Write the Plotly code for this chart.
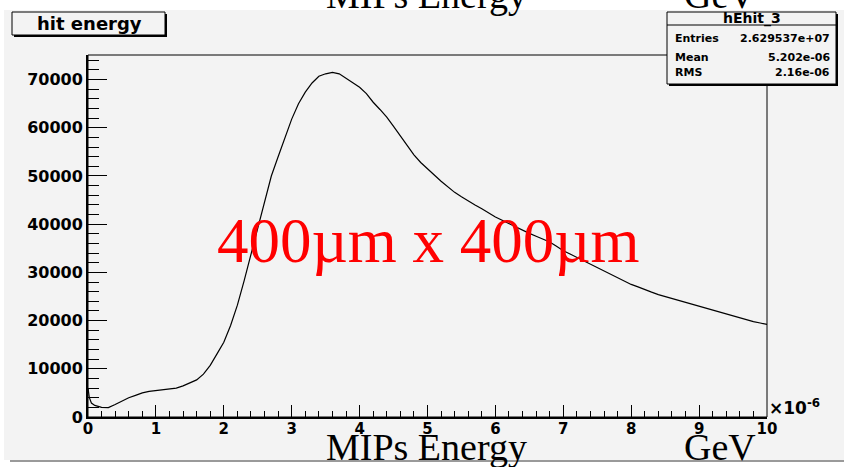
import plotly.graph_objects as go

# ---- data (x in units of 1e-6 GeV) ----
energy = [0.0, 0.02, 0.05, 0.1, 0.2, 0.3, 0.4, 0.5, 0.6, 0.7, 0.8, 0.9,
          1.0, 1.1, 1.2, 1.3, 1.4, 1.5, 1.6, 1.7, 1.8, 1.9,
          2.0, 2.1, 2.2, 2.3, 2.4, 2.5, 2.6, 2.7, 2.8, 2.9,
          3.0, 3.1, 3.2, 3.3, 3.4, 3.5, 3.6, 3.7, 3.8, 3.9,
          4.0, 4.1, 4.2, 4.3, 4.4, 4.5, 4.6, 4.7, 4.8, 4.9,
          5.0, 5.1, 5.2, 5.3, 5.4, 5.5, 5.6, 5.7, 5.8, 5.9,
          6.0, 6.1, 6.2, 6.3, 6.4, 6.5, 6.6, 6.7, 6.8, 6.9,
          7.0, 7.1, 7.2, 7.3, 7.4, 7.5, 7.6, 7.7, 7.8, 7.9,
          8.0, 8.1, 8.2, 8.3, 8.4, 8.5, 8.6, 8.7, 8.8, 8.9,
          9.0, 9.1, 9.2, 9.3, 9.4, 9.5, 9.6, 9.7, 9.8, 9.9, 10.0]
counts = [6000, 4000, 2900, 2400, 2000, 1950, 2600, 3300, 4000, 4500, 5000, 5300,
          5500, 5650, 5800, 6000, 6450, 7100, 7700, 8900, 10700, 13100,
          15500, 19000, 23200, 28300, 33600, 39000, 44600, 50000, 54000, 57800,
          61800, 65000, 67400, 69300, 70700, 71200, 71500, 71200, 70300, 69400,
          68400, 67100, 65300, 63800, 62200, 60300, 58300, 56200, 54400, 52800,
          51400, 50200, 48900, 47700, 46600, 45700, 44800, 44000, 43200, 42300,
          41500, 40800, 40100, 39400, 38800, 38100, 37500, 36900, 36300, 35400,
          34500, 33800, 33100, 32400, 31700, 31000, 30300, 29600, 28900, 28200,
          27500, 27000, 26400, 25900, 25400, 25000, 24600, 24100, 23700, 23300,
          22900, 22500, 22100, 21800, 21300, 20900, 20500, 20200, 19800, 19500, 19200]

x_ticks = list(range(0, 11))
y_ticks = [0, 10000, 20000, 30000, 40000, 50000, 60000, 70000]
stats_labels = ["Entries", "Mean", "RMS"]
stats_values = ["2.629537e+07", "5.202e-06", "2.16e-06"]
hist_name = "hEhit_3"
title_text = "hit energy"

# ---- layout geometry (pixels) ----
W, H = 844, 467
L, R, T, B = 88, 77, 55, 50
PW, PH = W - L - R, H - T - B


def px(x):
    return (x - L) / PW


def py(y):
    return (H - B - y) / PH


BOLD = "DejaVu Sans"
SERIF = "Liberation Serif"
BG = "#f3f3f3"

fig = go.Figure()
fig.add_trace(go.Scatter(x=energy, y=counts, mode="lines",
                         line=dict(color="black", width=1.2),
                         hoverinfo="skip", showlegend=False))

shapes = [
    # canvas background
    dict(type="rect", xref="paper", yref="paper", x0=px(4), x1=px(846),
         y0=py(460), y1=py(10), fillcolor=BG, line=dict(width=0), layer="below"),
    # bottom bevel
    dict(type="rect", xref="paper", yref="paper", x0=px(10), x1=px(846),
         y0=py(462), y1=py(460), fillcolor="#9a9a9a", line=dict(width=0), layer="below"),
    # frame
    dict(type="rect", xref="paper", yref="paper", x0=0, x1=1, y0=0, y1=1,
         line=dict(color="black", width=1), layer="above"),
    # title box shadow + box
    dict(type="rect", xref="paper", yref="paper", x0=px(14), x1=px(167),
         y0=py(37), y1=py(14), fillcolor="black", line=dict(width=0), layer="above"),
    dict(type="rect", xref="paper", yref="paper", x0=px(12), x1=px(165),
         y0=py(35), y1=py(12), fillcolor=BG, line=dict(color="black", width=1), layer="above"),
    # stats box shadow + box
    dict(type="rect", xref="paper", yref="paper", x0=px(669), x1=px(838),
         y0=py(86), y1=py(14), fillcolor="black", line=dict(width=0), layer="above"),
    dict(type="rect", xref="paper", yref="paper", x0=px(667), x1=px(836),
         y0=py(84), y1=py(12), fillcolor=BG, line=dict(color="black", width=1), layer="above"),
    dict(type="line", xref="paper", yref="paper", x0=px(667), x1=px(836),
         y0=py(25), y1=py(25), line=dict(color="black", width=1), layer="above"),
]

ann = []
ann.append(dict(text=title_text, x=px(89), y=py(23.5), xref="paper", yref="paper",
                showarrow=False, xanchor="center", yanchor="middle",
                font=dict(family=BOLD, size=18, color="black", weight="bold")))
ann.append(dict(text=hist_name, x=px(751.5), y=py(18.5), xref="paper", yref="paper",
                showarrow=False, xanchor="center", yanchor="middle",
                font=dict(family=BOLD, size=14, color="black", weight="bold")))
row_y = [38.5, 57.5, 72.5]
for lab, val, ry in zip(stats_labels, stats_values, row_y):
    ann.append(dict(text=lab, x=px(673), y=py(ry), xref="paper", yref="paper",
                    showarrow=False, xanchor="left", yanchor="middle",
                    font=dict(family=BOLD, size=11, color="black", weight="bold")))
    ann.append(dict(text=val, x=px(832), y=py(ry), xref="paper", yref="paper",
                    showarrow=False, xanchor="right", yanchor="middle",
                    font=dict(family=BOLD, size=11, color="black", weight="bold")))
# exponent label
ann.append(dict(text="×10<sup>-6</sup>", x=px(767), y=py(420), xref="paper", yref="paper",
                showarrow=False, xanchor="left", yanchor="bottom",
                font=dict(family=BOLD, size=17, color="black", weight="bold")))
# big red label
ann.append(dict(text="400µm x 400µm", x=px(428), y=py(240.5), xref="paper", yref="paper",
                showarrow=False, xanchor="center", yanchor="middle",
                font=dict(family=SERIF, size=63, color="red")))
# axis titles (bottom and cut-off top copy)
for cy in (447, -5):
    ann.append(dict(text="MIPs Energy", x=px(426), y=py(cy), xref="paper", yref="paper",
                    showarrow=False, xanchor="center", yanchor="middle",
                    font=dict(family=SERIF, size=38, color="black")))
    ann.append(dict(text="GeV", x=px(720), y=py(cy), xref="paper", yref="paper",
                    showarrow=False, xanchor="center", yanchor="middle",
                    font=dict(family=SERIF, size=38, color="black")))

fig.update_layout(
    width=W, height=H,
    margin=dict(l=L, r=R, t=T, b=B, pad=0),
    paper_bgcolor="white", plot_bgcolor="rgba(0,0,0,0)",
    shapes=shapes, annotations=ann, showlegend=False,
    xaxis=dict(range=[0, 10], tickvals=x_ticks, ticktext=[str(v) for v in x_ticks],
               ticks="inside", ticklen=12, tickwidth=1, tickcolor="black",
               minor=dict(dtick=0.2, ticks="inside", ticklen=6, tickcolor="black", tickwidth=1),
               showline=True, linewidth=2, linecolor="black",
               showgrid=False, zeroline=False, ticklabelstandoff=-3,
               tickfont=dict(family=BOLD, size=15, color="black", weight="bold")),
    yaxis=dict(range=[0, 75100], tickvals=y_ticks, ticktext=[str(v) for v in y_ticks],
               ticks="inside", ticklen=19, tickwidth=1, tickcolor="black",
               minor=dict(dtick=2000, ticks="inside", ticklen=11, tickcolor="black", tickwidth=1),
               showline=True, linewidth=2, linecolor="black",
               showgrid=False, zeroline=False,
               tickfont=dict(family=BOLD, size=16, color="black", weight="bold")),
)

fig.write_html("out.html", config={"displayModeBar": False},
               post_script="document.body.style.margin='0';document.body.style.overflow='hidden';")
